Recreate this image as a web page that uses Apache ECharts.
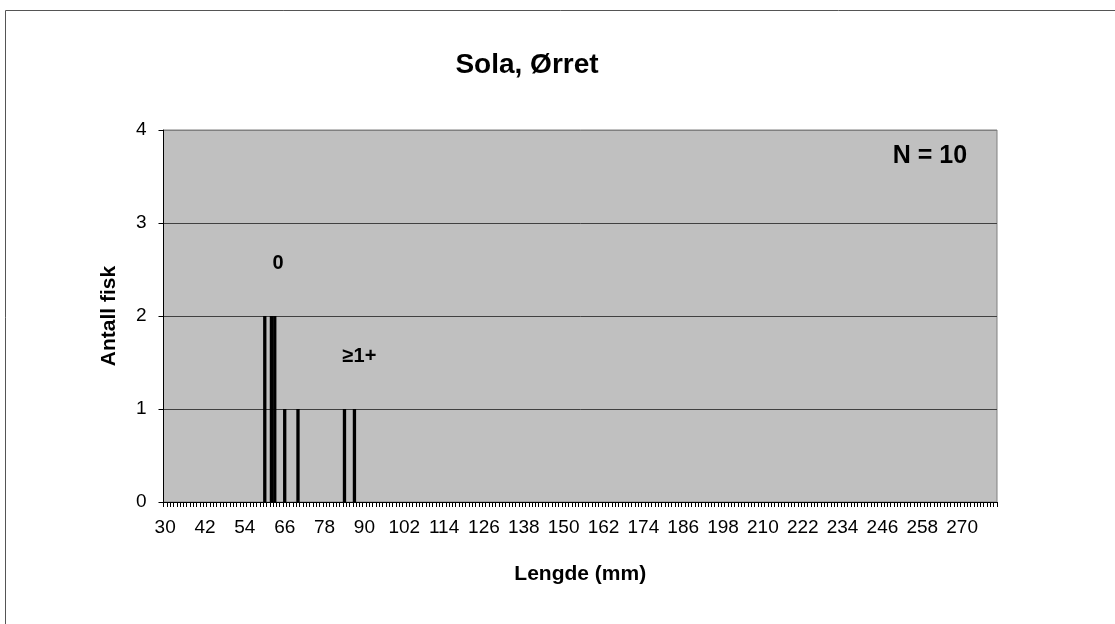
<!DOCTYPE html>
<html>
<head>
<meta charset="utf-8">
<script src="https://cdn.jsdelivr.net/npm/echarts@6/dist/echarts.min.js"></script>
<style>
html,body{margin:0;padding:0;background:#fff;}
#chart{width:1115px;height:624px;}
</style>
</head>
<body>
<div id="chart"></div>
<script>
// Length classes (mm) shown on the category axis
const lengthStart = 30;
const lengthEnd = 280;
// Observed fish: length (mm) and count
const fishLengths = [60, 62, 63, 66, 70, 84, 87];
const fishCounts = [2, 2, 2, 1, 1, 1, 1];
// Age-group annotations: [label, length category, y value]
const ageLabels = ['0', '≥1+'];
const ageLabelX = [64, 88.5];
const ageLabelY = [2.56, 1.57];
const titleText = 'Sola, Ørret';
const nText = 'N = 10';

const categories = [];
for (let v = lengthStart; v <= lengthEnd; v++) categories.push(String(v));
const values = categories.map(c => {
  const i = fishLengths.indexOf(Number(c));
  return i >= 0 ? fishCounts[i] : 0;
});

const FONT = 'Liberation Sans, Arial, sans-serif';
const chart = echarts.init(document.getElementById('chart'), null, {renderer: 'canvas'});

const option = {
  backgroundColor: '#ffffff',
  animation: false,
  title: {
    text: titleText,
    left: 522,
    top: 46,
    textAlign: 'center',
    textStyle: {fontFamily: FONT, fontSize: 28, fontWeight: 'bold', color: '#000'}
  },
  grid: {
    left: 163.5, right: 118, top: 130, bottom: 122,
    show: true, backgroundColor: '#C0C0C0', borderColor: '#808080', borderWidth: 1
  },
  xAxis: {
    type: 'category',
    data: categories,
    boundaryGap: true,
    name: 'Lengde (mm)',
    nameLocation: 'middle',
    nameGap: 62,
    nameTextStyle: {fontFamily: FONT, fontSize: 21, fontWeight: 'bold', color: '#000'},
    axisLine: {lineStyle: {color: '#000', width: 1}},
    axisTick: {show: true, interval: 0, length: 5, alignWithLabel: false, lineStyle: {color: '#000'}},
    axisLabel: {interval: 11, margin: 16, fontFamily: FONT, fontSize: 19, color: '#000'},
    splitLine: {show: false}
  },
  yAxis: {
    type: 'value',
    min: 0, max: 4, interval: 1,
    name: 'Antall fisk',
    nameLocation: 'middle',
    nameGap: 44,
    nameRotate: 90,
    nameTextStyle: {fontFamily: FONT, fontSize: 21, fontWeight: 'bold', color: '#000'},
    axisLine: {show: true, lineStyle: {color: '#000', width: 1}},
    axisTick: {show: true, length: 5, lineStyle: {color: '#000'}},
    axisLabel: {margin: 17, fontFamily: FONT, fontSize: 19, color: '#000'},
    splitLine: {show: true, lineStyle: {color: ['#000', '#404040', '#404040', '#404040', '#808080'], width: 1}}
  },
  series: [{
    type: 'bar',
    data: values,
    barCategoryGap: '0%',
    itemStyle: {color: '#000'},
    silent: true
  }],
  graphic: [
    {type: 'rect', shape: {x: 5.5, y: 10.5, width: 1200, height: 700}, style: {fill: 'none', stroke: '#555', lineWidth: 1}, silent: true, z: -1},
    {type: 'text', x: 930, y: 156, style: {text: nText, fontFamily: FONT, fontSize: 25, fontWeight: 'bold', fill: '#000', align: 'center', verticalAlign: 'middle'}}
  ]
};
chart.setOption(option);

// place age-group labels in data coordinates
const ageGraphics = ageLabels.map((t, i) => {
  const idx = ageLabelX[i] - lengthStart;
  const px = chart.convertToPixel({gridIndex: 0}, [Math.floor(idx), ageLabelY[i]]);
  const step = chart.convertToPixel({gridIndex: 0}, [1, 0])[0] - chart.convertToPixel({gridIndex: 0}, [0, 0])[0];
  return {type: 'text', x: px[0] + (idx - Math.floor(idx)) * step, y: px[1],
    style: {text: t, fontFamily: FONT, fontSize: 20, fontWeight: 'bold', fill: '#000', align: 'center', verticalAlign: 'middle'}};
});
chart.setOption({graphic: option.graphic.concat(ageGraphics)});
</script>
</body>
</html>
